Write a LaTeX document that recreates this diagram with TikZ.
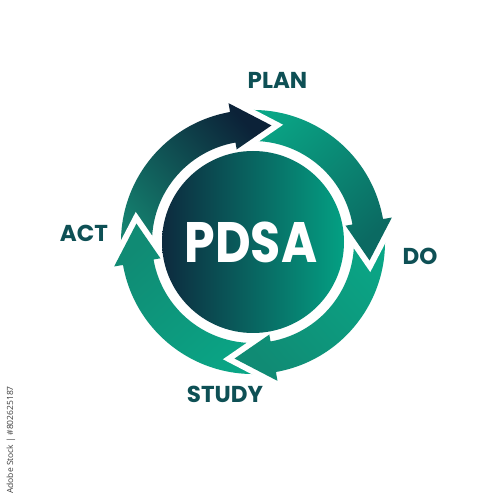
\documentclass[tikz,border=0pt]{standalone}
\usepackage{fontspec}
\usepackage{graphicx}
\setmainfont{Poppins}
\newfontfamily\sidefont{Open Sans}
\definecolor{navy}{HTML}{0C2238}
\definecolor{tealA}{HTML}{14816F}
\definecolor{tealB}{HTML}{0AA686}
\definecolor{tealC}{HTML}{0B6A62}
\definecolor{tealD}{HTML}{108B74}
\definecolor{labelc}{HTML}{0E5055}
\definecolor{circL}{HTML}{0D2A3E}
\definecolor{circR}{HTML}{04A083}
% #1 = tip angle, #2 = tail angle
\newcommand\pdsaArrow[2]{(#2:132) arc[start angle=#2, end angle=#1+19, radius=132] -- (#1+19:141) -- (#1:118) -- (#1+19:94) -- (#1+19:101) arc[start angle=#1+19, end angle=#2, radius=101] -- cycle}
\newcommand\pdsaHead[1]{(#1+19:141) -- (#1:118) -- (#1+19:94)}
\tikzset{
  arrA/.style={top color=navy, bottom color=tealA, shading angle=-48},
  arrB/.style={top color=tealC, bottom color=tealB, shading angle=-138},
  arrC/.style={top color=tealD, bottom color=tealB, shading angle=132},
  arrD/.style={top color=tealD, bottom color=tealB, shading angle=42},
  gapline/.style={draw=white, line width=12pt, line join=miter, miter limit=10},
  lbl/.style={inner sep=0pt, text=labelc, font=\fontsize{23}{23}\selectfont\bfseries},
}
\begin{document}
\begin{tikzpicture}[x=1pt,y=1pt]
\useasboundingbox (0,0) rectangle (500,500);
\fill[white] (0,0) rectangle (500,500);
\begin{scope}[shift={(253,258)}]
  % full arrows
  \shade[arrA] \pdsaArrow{81}{188};
  \shade[arrB] \pdsaArrow{-9}{98};
  \shade[arrC] \pdsaArrow{-99}{8};
  \shade[arrD] \pdsaArrow{-189}{-82};
  % heads with white gaps
  \path[gapline] \pdsaHead{81};
  \begin{scope}\clip \pdsaHead{81} -- cycle; \shade[arrA] \pdsaArrow{81}{188}; \end{scope}
  \path[gapline] \pdsaHead{-9};
  \begin{scope}\clip \pdsaHead{-9} -- cycle; \shade[arrB] \pdsaArrow{-9}{98}; \end{scope}
  \path[gapline] \pdsaHead{-99};
  \begin{scope}\clip \pdsaHead{-99} -- cycle; \shade[arrC] \pdsaArrow{-99}{8}; \end{scope}
  \path[gapline] \pdsaHead{-189};
  \begin{scope}\clip \pdsaHead{-189} -- cycle; \shade[arrD] \pdsaArrow{-189}{-82}; \end{scope}
  % central disc
  \shade[left color=circL, right color=circR] (0,0) circle[radius=91];
\end{scope}
\node[inner sep=0pt, text=white, font=\fontsize{57}{57}\selectfont\bfseries] (pdsa) at (251,258) {\scalebox{0.86}[1]{PDSA}};
\node[lbl] (plan) at (277.5,419.5) {PLAN};
\node[lbl] (do) at (420,243.5) {DO};
\node[lbl] (study) at (225,105.5) {STUDY};
\node[lbl] (act) at (84,266.5) {ACT};
\node[inner sep=0pt, text=black!75, rotate=90, font=\sidefont\fontsize{8.5}{8.5}\selectfont] (stock) at (11,60) {Adobe Stock | \#802625187};
\end{tikzpicture}
\end{document}
